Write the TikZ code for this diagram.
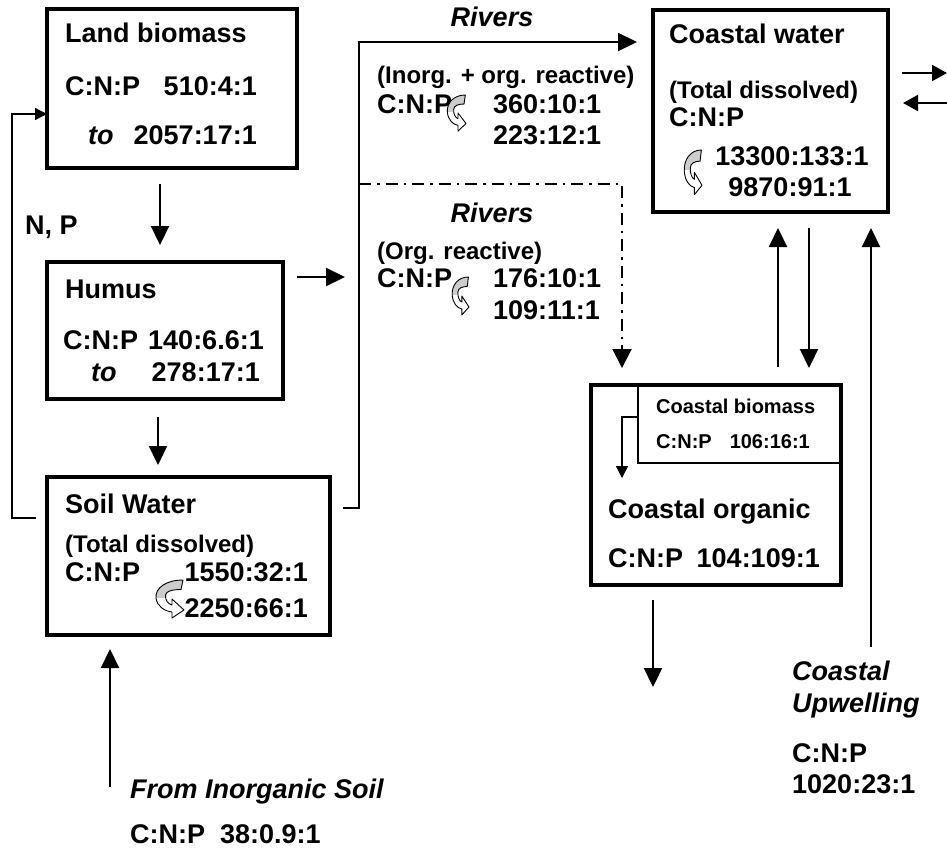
\documentclass[tikz,border=0pt]{standalone}
\usepackage{fontspec}
\setmainfont{Liberation Sans}
\usetikzlibrary{arrows.meta}
\tikzset{
 iconshape/.style={insert path={(29,0) .. controls (12,0) and (1,8) .. (2,18) .. controls (3,26) and (10,31) .. (18,32) -- (18,38) -- (30,30) -- (18,19) -- (18,25) .. controls (14,24) and (11,20) .. (11.5,15) .. controls (12,11) and (19,9.5) .. (27,9.5) -- cycle}},
 cnpicon/.pic={
   \begin{scope}
     \clip (-3,-3) rectangle (33,17);
     \fill[gray!40, iconshape];
   \end{scope}
   \draw[line width=0.9pt, line join=round, iconshape];
 }
}
\begin{document}
\begin{tikzpicture}[x=1pt,y=-1pt,
 box/.style={draw, line width=3.5pt, rectangle, anchor=north west, inner sep=0pt, outer sep=0pt},
 ibox/.style={draw, line width=2pt, rectangle, anchor=north west, inner sep=0pt, outer sep=0pt},
 tx/.style={inner sep=0pt, anchor=base west, font=\fontsize{27}{30}\selectfont\bfseries},
 txr/.style={tx, anchor=base east},
 txc/.style={tx, anchor=base},
 txi/.style={tx, font=\fontsize{27}{30}\selectfont\bfseries\itshape},
 tm/.style={tx, font=\fontsize{24}{28}\selectfont\bfseries},
 ts/.style={tx, font=\fontsize{20}{24}\selectfont\bfseries},
 tsr/.style={ts, anchor=base east},
 arr/.style={line width=2.2pt, -{Triangle[width=18pt,length=19pt]}},
 marr/.style={line width=2pt, -{Triangle[width=16pt,length=15pt]}},
 sarr/.style={line width=1.3pt, -{Triangle[width=12pt,length=12pt]}},
 ddarr/.style={line width=2pt, dash pattern=on 12pt off 6pt on 2.5pt off 6pt, -{Triangle[width=19pt,length=19pt]}}
]
\useasboundingbox (0,0) rectangle (947,849);

% boxes
\node[box, minimum width=250pt, minimum height=159pt] (land) at (47,9) {};
\node[box, minimum width=236pt, minimum height=137pt] (humus) at (47,262) {};
\node[box, minimum width=283pt, minimum height=158pt] (soil) at (47,477) {};
\node[box, minimum width=235pt, minimum height=202pt] (cwater) at (653,10) {};
\node[box, minimum width=250pt, minimum height=200pt] (corg) at (591,385) {};
\node[ibox, minimum width=203pt, minimum height=78pt] (cbio) at (638,385) {};

% Land biomass
\node[tx] (landt) at (65,42) {Land biomass};
\node[tx] (landc) at (65,95) {C:N:P};
\node[txr] (landv1) at (257,95) {510:4:1};
\node[txi] (landto) at (88,144) {to};
\node[txr] (landv2) at (257,144) {2057:17:1};
\node[tx] (np) at (25,234) {N, P};

% Humus
\node[tx] (humt) at (65,298) {Humus};
\node[tx] (humc) at (63,349) {C:N:P};
\node[txr] (humv1) at (264,349) {140:6.6:1};
\node[txi] (humto) at (91,381) {to};
\node[txr] (humv2) at (260,381) {278:17:1};

% Soil water
\node[tx] (soilt) at (65,513) {Soil Water};
\node[tm] (soild) at (65,552) {(Total dissolved)};
\node[tx] (soilc) at (65,581) {C:N:P};
\node[txr] (soilv1) at (308,581) {1550:32:1};
\node[txr] (soilv2) at (308,617) {2250:66:1};
\pic (ic4) at (154,580) {cnpicon};

% Rivers (top)
\node[txi, anchor=base] (riv1) at (492,26) {Rivers};
\node[tm] (riv1d) at (377,83) {(Inorg. + org. reactive)};
\node[tx] (riv1c) at (377,113) {C:N:P};
\node[tx] (riv1v1) at (493,113) {360:10:1};
\node[tx] (riv1v2) at (493,144) {223:12:1};
\pic[xscale=0.667, yscale=0.95] (ic1) at (446,95) {cnpicon};

% Rivers (lower)
\node[txi, anchor=base] (riv2) at (492,222) {Rivers};
\node[tm] (riv2d) at (377,259) {(Org. reactive)};
\node[tx] (riv2c) at (377,287) {C:N:P};
\node[tx] (riv2v1) at (493,287) {176:10:1};
\node[tx] (riv2v2) at (493,319) {109:11:1};
\pic[xscale=0.6, yscale=1] (ic2) at (451,277) {cnpicon};

% Coastal water
\node[tx] (cwt) at (669,43) {Coastal water};
\node[tm] (cwd) at (669,98) {(Total dissolved)};
\node[tx] (cwc) at (669,126) {C:N:P};
\node[txc] (cwv1) at (792,165) {13300:133:1};
\node[txc] (cwv2) at (790,196) {9870:91:1};
\pic[xscale=0.633, yscale=1.175] (ic3) at (683,150) {cnpicon};

% Coastal biomass / organic
\node[ts] (cbt) at (656,413) {Coastal biomass};
\node[ts] (cbc) at (656,448) {C:N:P};
\node[tsr] (cbv) at (810,448) {106:16:1};
\node[tx] (cot) at (608,518) {Coastal organic};
\node[tx] (coc) at (608,567) {C:N:P};
\node[txr] (cov) at (820,567) {104:109:1};

% Upwelling
\node[txi] (upw1) at (792,680) {Coastal};
\node[txi] (upw2) at (792,712) {Upwelling};
\node[tx] (upwc) at (792,762) {C:N:P};
\node[tx] (upwv) at (792,793) {1020:23:1};

% From inorganic soil
\node[txi] (inorg) at (130,798) {From Inorganic Soil};
\node[tx] (inorgc) at (130,843) {C:N:P};
\node[tx] (inorgv) at (220,843) {38:0.9:1};

% connectors
\draw[arr] ([xshift=-12pt,yshift=-16pt]land.south) -- ([xshift=-5pt,yshift=17pt]humus.north);
\draw[arr] ([xshift=-7pt,yshift=-18pt]humus.south) -- ([xshift=-30.5pt,yshift=12pt]soil.north);
\draw[arr] ([xshift=14pt,yshift=53.5pt]humus.east) -- ([xshift=62pt,yshift=53.5pt]humus.east);
\draw[arr] ([xshift=13pt,yshift=48pt]soil.east) -- ++(16,0) |- ([xshift=-16pt,yshift=69pt]cwater.west);
\coordinate (ddstart) at (359,184);
\draw[ddarr] (ddstart) -| ([xshift=-94pt,yshift=17pt]corg.north);
\draw[sarr] ([xshift=-11pt,yshift=38pt]soil.west) -- ++(-24,0) |- ([yshift=-25.5pt]land.west);
\draw[arr] ([xshift=38.5pt,yshift=-16pt]cwater.south) -- ([xshift=93pt,yshift=17pt]corg.north);
\draw[arr] ([xshift=62pt,yshift=18pt]corg.north) -- ([xshift=7.5pt,yshift=-16pt]cwater.south);
\coordinate (upwstart) at (871,647);
\draw[arr] (upwstart) -- ([xshift=100.5pt,yshift=-16pt]cwater.south);
\draw[arr] ([xshift=-63pt,yshift=-15pt]corg.south) -- ([xshift=-63pt,yshift=-102pt]corg.south);
\draw[arr] ([xshift=-78.5pt,yshift=-152pt]soil.south) -- ([xshift=-78.5pt,yshift=-14pt]soil.south);
\draw[marr] ([xshift=14pt,yshift=38pt]cwater.east) -- ([xshift=59pt,yshift=38pt]cwater.east);
\draw[marr] ([xshift=59pt,yshift=8pt]cwater.east) -- ([xshift=15pt,yshift=8pt]cwater.east);
\draw[sarr] ([yshift=7pt]cbio.west) -- ++(-16,0) -- ++(0,61);
\end{tikzpicture}
\end{document}
